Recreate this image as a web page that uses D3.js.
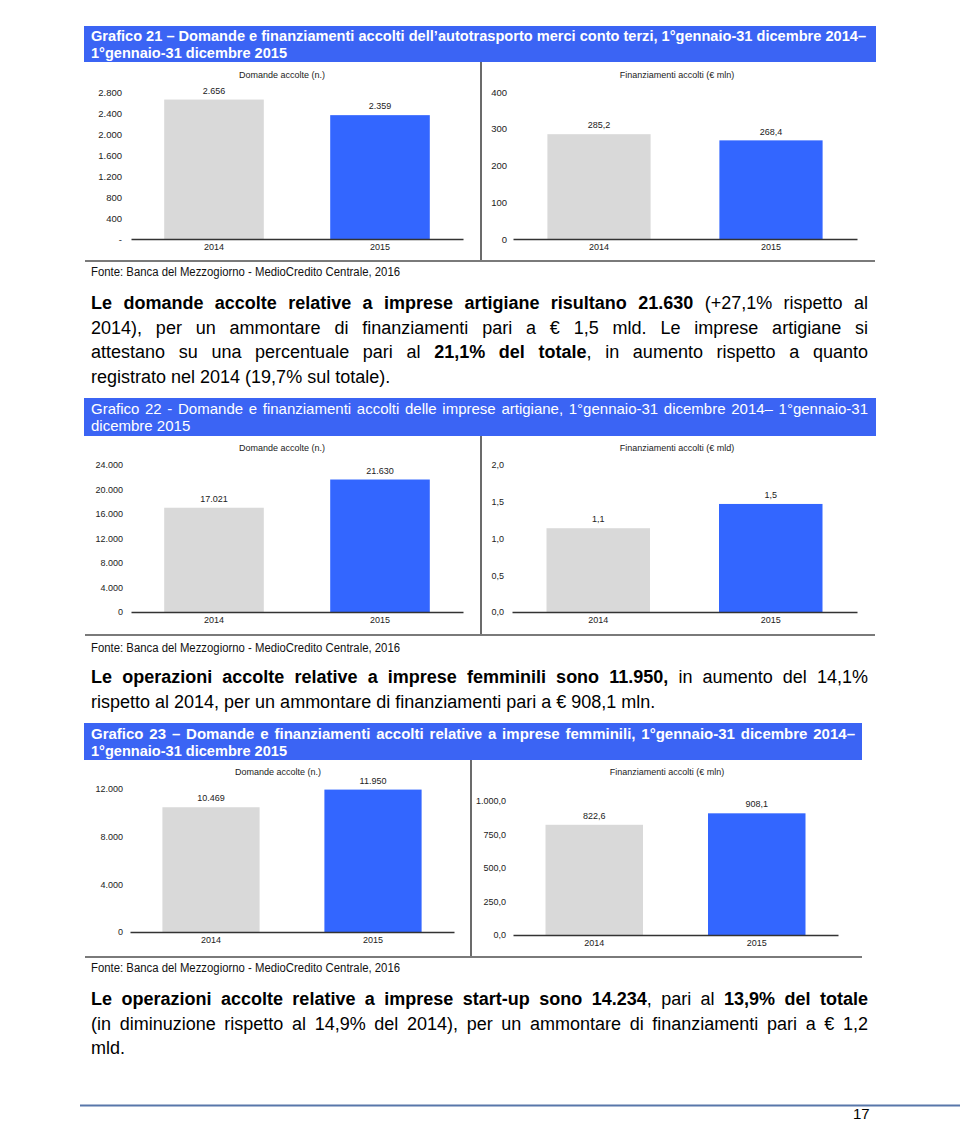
<!DOCTYPE html>
<html><head><meta charset="utf-8">
<script src="https://cdn.jsdelivr.net/npm/d3@7"></script>
<style>
html,body{margin:0;padding:0;background:#fff;}
#page{position:relative;width:960px;height:1121px;overflow:hidden;font-family:"Liberation Sans",Arial,Helvetica,sans-serif;}
#page svg{position:absolute;left:0;top:0;}
.ln{position:absolute;white-space:nowrap;line-height:1;transform-origin:0 50%;}
</style></head><body><div id="page"></div>
<script>
// ---------- data ----------
const years = ["2014", "2015"];
const barColors = ["#d9d9d9", "#3366ff"];

const g21Domande = [2656, 2359];
const g21Fin = [285.2, 268.4];
const g22Domande = [17021, 21630];
const g22Fin = [1.14, 1.47];
const g23Domande = [10469, 11950];
const g23Fin = [822.6, 908.1];

const g21DomTicks = [0, 400, 800, 1200, 1600, 2000, 2400, 2800];
const g21FinTicks = [0, 100, 200, 300, 400];
const g22DomTicks = [0, 4000, 8000, 12000, 16000, 20000, 24000];
const g22FinTicks = [0, 0.5, 1, 1.5, 2];
const g23DomTicks = [0, 4000, 8000, 12000];
const g23FinTicks = [0, 250, 500, 750, 1000];

const subDomande = "Domande accolte (n.)";
const subFinMln = "Finanziamenti accolti (€ mln)";
const subFinMld = "Finanziamenti accolti (€ mld)";
const fonte = "Fonte: Banca del Mezzogiorno - MedioCredito Centrale, 2016";

const title21 = ["Grafico 21 – Domande e finanziamenti accolti dell’autotrasporto merci conto terzi, 1°gennaio-31 dicembre 2014–", "1°gennaio-31 dicembre 2015"];
const title22 = ["Grafico 22 - Domande e finanziamenti accolti delle imprese artigiane, 1°gennaio-31 dicembre 2014– 1°gennaio-31", "dicembre 2015"];
const title23 = ["Grafico 23 – Domande e finanziamenti accolti relative a imprese femminili, 1°gennaio-31 dicembre 2014–", "1°gennaio-31 dicembre 2015"];

const para1 = [
  [["Le domande accolte relative a imprese artigiane risultano 21.630", 1], [" (+27,1% rispetto al", 0]],
  [["2014), per un ammontare di finanziamenti pari a € 1,5 mld. Le imprese artigiane si", 0]],
  [["attestano su una percentuale pari al ", 0], ["21,1% del totale", 1], [", in aumento rispetto a quanto", 0]],
  [["registrato nel 2014 (19,7% sul totale).", 0]]
];
const para2 = [
  [["Le operazioni accolte relative a imprese femminili sono 11.950,", 1], [" in aumento del 14,1%", 0]],
  [["rispetto al 2014, per un ammontare di finanziamenti pari a € 908,1 mln.", 0]]
];
const para3 = [
  [["Le operazioni accolte relative a imprese start-up sono 14.234", 1], [", pari al ", 0], ["13,9% del totale", 1]],
  [["(in diminuzione rispetto al 14,9% del 2014), per un ammontare di finanziamenti pari a € 1,2", 0]],
  [["mld.", 0]]
];
const pageNumber = "17";

// ---------- formats ----------
const it = d3.formatLocale({decimal: ",", thousands: ".", grouping: [3], currency: ["€", ""]});
const fInt = it.format(",.0f");
const f1 = it.format(",.1f");
const fD = it.format("d");

const page = d3.select("#page");
const svg = page.append("svg").attr("width", 960).attr("height", 1121);
const FONT = '"Liberation Sans", Arial, Helvetica, sans-serif';

// ---------- title bars & frames ----------
const titleBlue = "#3b64f4";
[[84, 26, 792, 36], [84, 398, 792, 38], [84, 723, 778, 37]].forEach(r =>
  svg.append("rect").attr("x", r[0]).attr("y", r[1]).attr("width", r[2]).attr("height", r[3]).attr("fill", titleBlue));

// frames: separator (x, y1, y2) and bottom border (y, x1, x2)
[[481, 62, 261, 261, 85, 875], [481, 436, 635, 635, 85, 875], [471, 760, 957, 957, 85, 862]].forEach(f => {
  svg.append("line").attr("x1", f[0]).attr("x2", f[0]).attr("y1", f[1]).attr("y2", f[2])
    .attr("stroke", "#3a3a3a").attr("stroke-width", 1.5);
  svg.append("line").attr("x1", f[4]).attr("x2", f[5]).attr("y1", f[3]).attr("y2", f[3])
    .attr("stroke", "#7a7a7a").attr("stroke-width", 2);
});

// footer line
svg.append("line").attr("x1", 80).attr("x2", 960).attr("y1", 1105.5).attr("y2", 1105.5)
  .attr("stroke", "#5877aa").attr("stroke-width", 2);

// ---------- panels ----------
const panels = [
  {vals: g21Domande, ticks: g21DomTicks, max: 2800, x0: 131, x1: 463, yb: 239, yt: 92, tx: 122, sub: subDomande, sx: 282, sy: 75, tf: v => v === 0 ? "-" : fInt(v), vf: fInt, ts: 9.5},
  {vals: g21Fin, ticks: g21FinTicks, max: 400, x0: 513, x1: 857, yb: 239, yt: 92, tx: 507, sub: subFinMln, sx: 677, sy: 75, tf: fD, vf: f1, ts: 9.5},
  {vals: g22Domande, ticks: g22DomTicks, max: 24000, x0: 131, x1: 463, yb: 612, yt: 465, tx: 123, sub: subDomande, sx: 282, sy: 448, tf: fInt, vf: fInt, ts: 9},
  {vals: g22Fin, ticks: g22FinTicks, max: 2, x0: 512, x1: 857, yb: 612, yt: 465, tx: 504, sub: subFinMld, sx: 677, sy: 448, tf: f1, vf: f1, ts: 9},
  {vals: g23Domande, ticks: g23DomTicks, max: 12000, x0: 130, x1: 454, yb: 932, yt: 789, tx: 123, sub: subDomande, sx: 278, sy: 772, tf: fInt, vf: fInt, ts: 9},
  {vals: g23Fin, ticks: g23FinTicks, max: 1000, x0: 513, x1: 838, yb: 935, yt: 801, tx: 506, sub: subFinMln, sx: 667, sy: 772, tf: f1, vf: f1, ts: 9}
];

panels.forEach(p => {
  const g = svg.append("g").attr("font-family", FONT);
  const x = d3.scaleBand().domain(years).range([p.x0, p.x1]).paddingInner(0.4).paddingOuter(0.2);
  const y = d3.scaleLinear().domain([0, p.max]).range([p.yb, p.yt]);

  g.append("text").attr("x", p.sx).attr("y", p.sy).attr("dy", "0.35em")
    .attr("text-anchor", "middle").attr("font-size", 9).attr("fill", "#222").text(p.sub);

  const data = years.map((yr, i) => ({yr, v: p.vals[i], c: barColors[i]}));
  g.selectAll("rect.bar").data(data).join("rect").attr("class", "bar")
    .attr("x", d => x(d.yr)).attr("width", x.bandwidth())
    .attr("y", d => y(d.v)).attr("height", d => p.yb - y(d.v)).attr("fill", d => d.c);

  g.selectAll("text.val").data(data).join("text").attr("class", "val")
    .attr("x", d => x(d.yr) + x.bandwidth() / 2).attr("y", d => y(d.v) - 9).attr("dy", "0.35em")
    .attr("text-anchor", "middle").attr("font-size", 9).attr("fill", "#222")
    .text(d => p.vf(d.v));

  const ya = g.append("g").attr("transform", `translate(${p.tx},0)`)
    .call(d3.axisLeft(y).tickValues(p.ticks).tickSize(0).tickPadding(0).tickFormat(p.tf));
  ya.select(".domain").remove();
  ya.selectAll("text").attr("font-size", p.ts).attr("fill", "#222").attr("font-family", FONT);

  const xa = g.append("g").attr("transform", `translate(0,${p.yb})`)
    .call(d3.axisBottom(x).tickSize(0).tickSizeOuter(0).tickPadding(5));
  xa.select(".domain").attr("stroke", "#333").attr("stroke-width", 1.5);
  xa.selectAll("text").attr("font-size", 9).attr("fill", "#222").attr("font-family", FONT);
});

// ---------- text lines ----------
function textLine(o) {
  const div = page.append("div").attr("class", "ln")
    .style("left", o.x + "px").style("top", (o.y - o.size * 0.49) + "px")
    .style("font-size", o.size + "px").style("color", o.color || "#000")
    .style("font-weight", o.weight || "normal");
  o.segs.forEach(s => div.append("span").style("font-weight", s[1] ? "bold" : null).text(s[0]));
  const node = div.node();
  const w = node.getBoundingClientRect().width;
  if (o.width) {
    if (w > o.width && o.fit) {
      div.style("transform", `scaleX(${o.width / w})`);
    } else if (o.justify && w < o.width) {
      const txt = o.segs.map(s => s[0]).join("");
      const n = (txt.match(/ /g) || []).length;
      if (n > 0) div.style("word-spacing", ((o.width - w) / n) + "px");
    }
  }
  return div;
}

// titles
textLine({x: 91, y: 35, size: 15, color: "#fff", weight: "bold", segs: [[title21[0], 0]], width: 775, fit: true, justify: true});
textLine({x: 91, y: 52, size: 15, color: "#fff", weight: "bold", segs: [[title21[1], 0]], width: 196, fit: true});
textLine({x: 91, y: 408, size: 15, color: "#fff", segs: [[title22[0], 0]], width: 777, fit: true, justify: true});
textLine({x: 91, y: 425, size: 15, color: "#fff", segs: [[title22[1], 0]]});
textLine({x: 91, y: 733, size: 15, color: "#fff", weight: "bold", segs: [[title23[0], 0]], width: 764, fit: true, justify: true});
textLine({x: 91, y: 750, size: 15, color: "#fff", weight: "bold", segs: [[title23[1], 0]], width: 196, fit: true});

// sources
[272, 648, 968].forEach(yy => textLine({x: 91, y: yy, size: 12.5, color: "#111", segs: [[fonte, 0]], width: 309, fit: true}));

// paragraphs
function para(lines, y0, pitch) {
  lines.forEach((segs, i) => textLine({x: 91, y: y0 + i * pitch, size: 18, color: "#000", segs,
    width: 777, fit: true, justify: i < lines.length - 1}));
}
para(para1, 303, 24.6);
para(para2, 677, 24.5);
para(para3, 999, 24.5);

textLine({x: 853, y: 1113, size: 15, color: "#000", segs: [[pageNumber, 0]]});
</script>
</body></html>
